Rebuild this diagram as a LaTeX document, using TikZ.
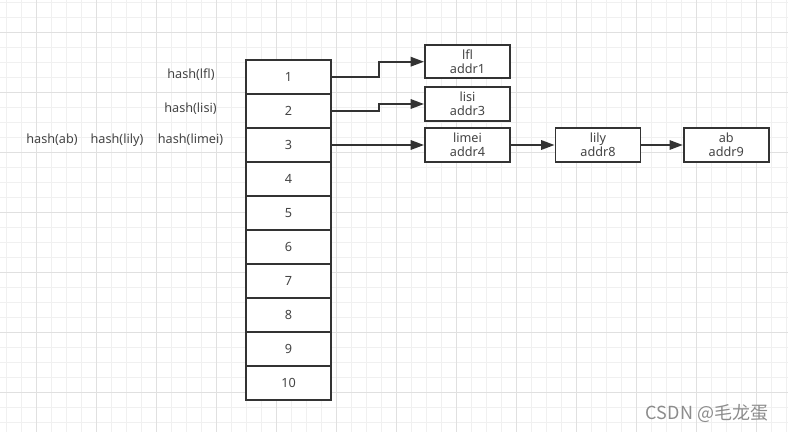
\documentclass[tikz,border=0pt]{standalone}
\usepackage{fontspec}
\setmainfont{Noto Sans}
\newfontfamily\cjk{Noto Sans CJK SC}
\usetikzlibrary{positioning,arrows.meta}

\definecolor{gridminor}{HTML}{F0F0F0}
\definecolor{gridmajor}{HTML}{E0E0E0}
\definecolor{linedark}{HTML}{333333}
\definecolor{textgray}{HTML}{444444}

\tikzset{
  cell/.style={draw=linedark, line width=1.4pt, fill=white, minimum width=63.75pt,
    minimum height=25.5pt, inner sep=0pt, text=textgray, font=\fontsize{9.5pt}{11pt}\selectfont},
  entry/.style={draw=linedark, line width=1.4pt, fill=white, minimum width=63.75pt,
    minimum height=25pt, inner sep=0pt, align=center, text=textgray,
    font=\fontsize{9.5pt}{10.5pt}\selectfont},
  hashlabel/.style={text=textgray, font=\fontsize{9.5pt}{11pt}\selectfont},
  link/.style={draw=linedark, line width=1.5pt, -{Triangle[length=10pt,width=7pt]}}
}

\begin{document}
\begin{tikzpicture}[x=0.75pt, y=-0.75pt]

  \useasboundingbox (0,0) rectangle (788,432);

  % Grid
  \foreach \i in {0,...,52} {
    \draw[gridminor, line width=0.75pt] ({6.7+15*\i},0) -- ({6.7+15*\i},432);
  }
  \foreach \i in {0,...,28} {
    \draw[gridminor, line width=0.75pt] (0,{2.3+15*\i}) -- (788,{2.3+15*\i});
  }
  \foreach \i in {0,...,12} {
    \draw[gridmajor, line width=0.75pt] ({36.7+60*\i},0) -- ({36.7+60*\i},432);
  }
  \foreach \i in {0,...,6} {
    \draw[gridmajor, line width=0.75pt] (0,{32.3+60*\i}) -- (788,{32.3+60*\i});
  }

  % Hash table
  \foreach \i in {1,...,10} {
    \node[cell] (cell\i) at (288.5,{43+34*\i}) {\i};
  }

  % Hash labels
  \node[hashlabel] (hlfl) at (191,75) {hash(lfl)};
  \node[hashlabel] (hlisi) at (190.5,109) {hash(lisi)};
  \node[hashlabel] (hlimei) at (190.5,140) {hash(limei)};
  \node[hashlabel] (hlily) at (117,140) {hash(lily)};
  \node[hashlabel] (hab) at (52,140) {hash(ab)};

  % Entries
  \node[entry] (lfl) at (467.5,61.7) {lfl\\addr1};
  \node[entry] (lisi) at (467.5,104) {lisi\\addr3};
  \node[entry] (limei) at (467.5,145) {limei\\addr4};
  \node[entry] (lily) at (598,145) {lily\\addr8};
  \node[entry] (ab) at (726.3,145) {ab\\addr9};

  % Links
  \draw[link] (cell1.east) -- ++(47,0) |- (lfl.west);
  \draw[link] (cell2.east) -- ++(47,0) |- (lisi.west);
  \draw[link] (cell3.east) -- (limei.west);
  \draw[link] (limei) -- (lily);
  \draw[link] (lily) -- (ab);

  % Watermark
  \node[text=black!45, font=\cjk\fontsize{13.5pt}{15pt}\selectfont] (mark) at (707,413) {CSDN @毛龙蛋};

\end{tikzpicture}
\end{document}
